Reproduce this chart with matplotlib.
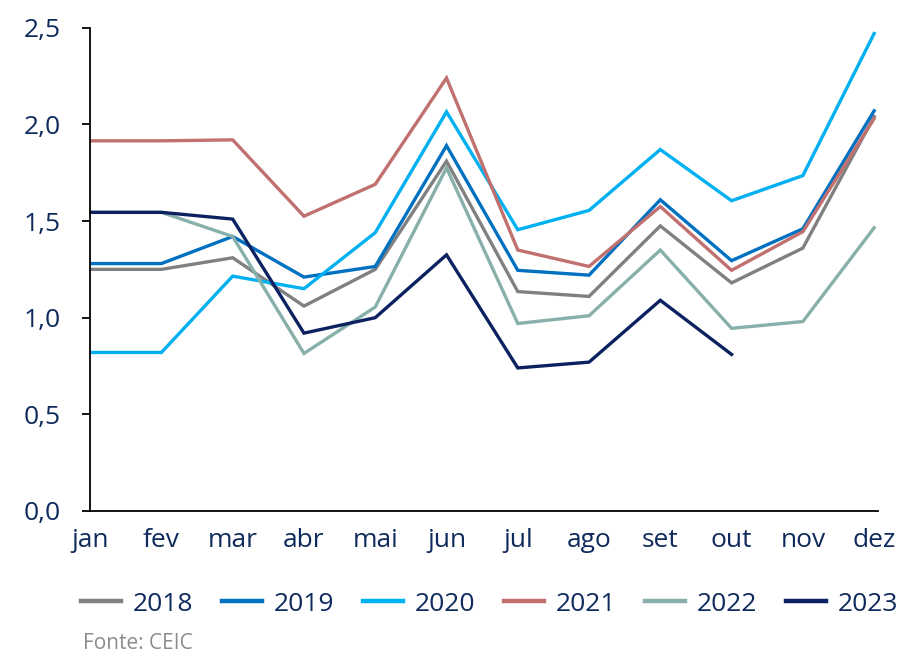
import numpy as np
import matplotlib.pyplot as plt

plt.rcParams['font.family'] = ['Open Sans', 'DejaVu Sans']

# meses
meses = ['jan', 'fev', 'mar', 'abr', 'mai', 'jun', 'jul', 'ago', 'set', 'out', 'nov', 'dez']

# séries
v2018 = [1.25, 1.25, 1.31, 1.06, 1.25, 1.81, 1.135, 1.11, 1.475, 1.18, 1.36, 2.04]
v2019 = [1.28, 1.28, 1.42, 1.21, 1.265, 1.89, 1.245, 1.22, 1.61, 1.295, 1.46, 2.07]
v2020 = [0.82, 0.82, 1.215, 1.15, 1.44, 2.065, 1.455, 1.555, 1.87, 1.605, 1.735, 2.47]
v2021 = [1.915, 1.915, 1.92, 1.525, 1.69, 2.24, 1.35, 1.265, 1.575, 1.245, 1.445, 2.03]
v2022 = [1.545, 1.545, 1.42, 0.815, 1.055, 1.775, 0.97, 1.01, 1.35, 0.945, 0.98, 1.465]
v2023 = [1.545, 1.545, 1.51, 0.92, 1.0, 1.325, 0.74, 0.77, 1.09, 0.81]

anos = ['2018', '2019', '2020', '2021', '2022', '2023']
series = [v2018, v2019, v2020, v2021, v2022, v2023]
cores = ['#808080', '#0070c0', '#00b0f0', '#c0706e', '#88b0aa', '#0c2260']

azul_texto = '#0f2a5c'

fig = plt.figure(figsize=(9.2, 6.53), dpi=100)
ax = fig.add_axes([0.098, 0.2175, 0.856, 0.74])

x = np.arange(len(meses))
for ano, vals, cor in zip(anos, series, cores):
    ax.plot(x[:len(vals)], vals, color=cor, linewidth=2.4, label=ano,
            solid_joinstyle='miter')

ax.set_xlim(0, 11.05)
ax.set_ylim(0, 2.5)
ax.set_yticks(np.arange(0, 2.51, 0.5))
ax.set_yticklabels([f'{v:.1f}'.replace('.', ',') for v in np.arange(0, 2.51, 0.5)])
ax.set_xticks(x)
ax.set_xticklabels(meses)

ax.spines['top'].set_visible(False)
ax.spines['right'].set_visible(False)
ax.spines['left'].set_linewidth(1.3)
ax.spines['bottom'].set_linewidth(1.3)
ax.tick_params(axis='y', length=6, width=1.3, labelsize=19, labelcolor=azul_texto, pad=15)
ax.tick_params(axis='x', length=0, labelsize=19, labelcolor=azul_texto, pad=12)

handles, labels = ax.get_legend_handles_labels()
leg = fig.legend(handles, labels, loc='center', bbox_to_anchor=(0.532, 0.075),
                 bbox_transform=fig.transFigure, ncol=6, frameon=False,
                 fontsize=19, handlelength=1.5, handletextpad=0.45, columnspacing=1.1)
for t in leg.get_texts():
    t.set_color(azul_texto)
for h in leg.get_lines():
    h.set_linewidth(3.2)

fig.text(0.09, 0.006, 'Fonte: CEIC', fontsize=15, color='#8c8c8c', va='baseline')

plt.savefig('out.png', dpi=100)
